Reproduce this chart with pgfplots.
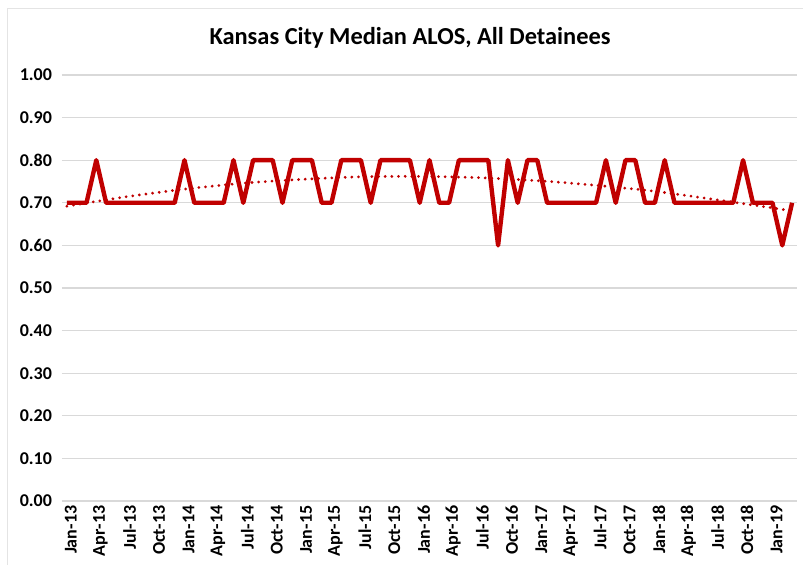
\documentclass[border=0pt]{standalone}
\usepackage{pgfplots}
\pgfplotsset{compat=1.18}
\usepackage{fontspec}
\setmainfont{Carlito}
\definecolor{lred}{HTML}{C00000}
\definecolor{gridgray}{HTML}{D9D9D9}
\begin{document}
\begin{tikzpicture}
\path[use as bounding box] (-46.5pt,-47.25pt) rectangle (555.75pt,375.75pt);
\draw[gridgray!70,line width=0.6pt] (-41.25pt,-80pt) -- (-41.25pt,369.75pt) -- (600pt,369.75pt);
\begin{axis}[
  at={(0,0)}, anchor=south west,
  scale only axis, width=551.25pt, height=319.5pt,
  xmin=-0.5, xmax=74.5, ymin=0, ymax=1,
  axis line style={draw=none},
  ymajorgrids=true, xmajorgrids=false,
  y grid style={color=gridgray, line width=0.8pt},
  ytick={0,0.1,...,1.01},
  xtick={0,3,...,72},
  xticklabels={Jan-13,Apr-13,Jul-13,Oct-13,Jan-14,Apr-14,Jul-14,Oct-14,Jan-15,Apr-15,Jul-15,Oct-15,Jan-16,Apr-16,Jul-16,Oct-16,Jan-17,Apr-17,Jul-17,Oct-17,Jan-18,Apr-18,Jul-18,Oct-18,Jan-19},
  major tick length=0pt,
  /pgf/number format/assume math mode=true,
  yticklabel style={/pgf/number format/fixed, /pgf/number format/precision=2, /pgf/number format/fixed zerofill, font=\fontsize{13.5}{15}\selectfont\bfseries, xshift=-4pt},
  xticklabel style={rotate=90, anchor=east, font=\fontsize{13.5}{15}\selectfont\bfseries, yshift=-3pt},
  clip=false,
]
\addplot[lred, line width=3.3pt, line join=round] coordinates {
(0,0.70)(1,0.70)(2,0.70)(3,0.80)(4,0.70)(5,0.70)(6,0.70)(7,0.70)(8,0.70)(9,0.70)
(10,0.70)(11,0.70)(12,0.80)(13,0.70)(14,0.70)(15,0.70)(16,0.70)(17,0.80)(18,0.70)(19,0.80)
(20,0.80)(21,0.80)(22,0.70)(23,0.80)(24,0.80)(25,0.80)(26,0.70)(27,0.70)(28,0.80)(29,0.80)
(30,0.80)(31,0.70)(32,0.80)(33,0.80)(34,0.80)(35,0.80)(36,0.70)(37,0.80)(38,0.70)(39,0.70)
(40,0.80)(41,0.80)(42,0.80)(43,0.80)(44,0.60)(45,0.80)(46,0.70)(47,0.80)(48,0.80)(49,0.70)
(50,0.70)(51,0.70)(52,0.70)(53,0.70)(54,0.70)(55,0.80)(56,0.70)(57,0.80)(58,0.80)(59,0.70)
(60,0.70)(61,0.80)(62,0.70)(63,0.70)(64,0.70)(65,0.70)(66,0.70)(67,0.70)(68,0.70)(69,0.80)
(70,0.70)(71,0.70)(72,0.70)(73,0.60)(74,0.70)
};
\addplot[lred, line width=2.3pt, line cap=round, dash pattern=on 0pt off 5pt, smooth] coordinates {
(0,0.692)(6,0.714)(12,0.732)(18,0.746)(24,0.755)(30,0.761)(36,0.762)(42,0.759)(48,0.752)(54,0.741)(60,0.727)(66,0.708)(72,0.688)(74,0.681)
};
\end{axis}
\node[anchor=base, font=\fontsize{18.3}{21}\selectfont\bfseries] at (261pt,342pt) {Kansas City Median ALOS, All Detainees};
\end{tikzpicture}
\end{document}
